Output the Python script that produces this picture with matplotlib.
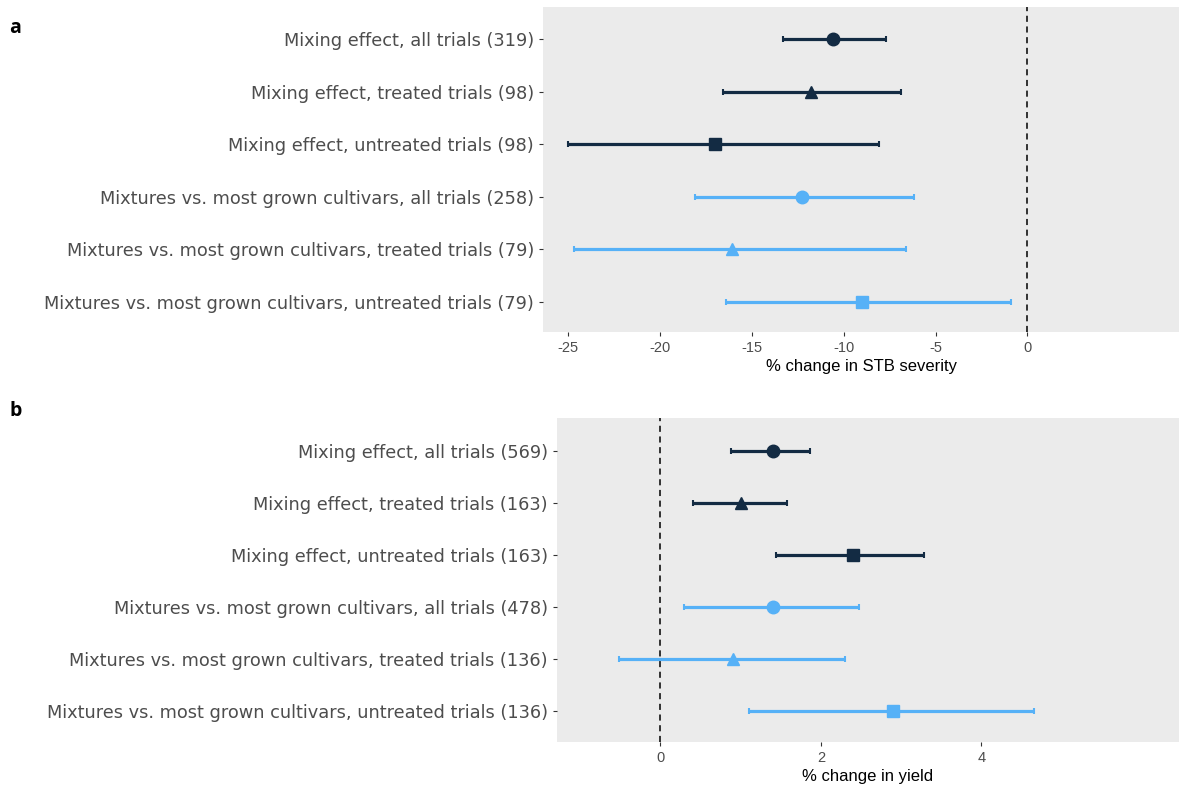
import matplotlib
matplotlib.use("Agg")
import matplotlib.pyplot as plt

# row labels, top to bottom
labels_a = ["Mixing effect, all trials (319)",
            "Mixing effect, treated trials (98)",
            "Mixing effect, untreated trials (98)",
            "Mixtures vs. most grown cultivars, all trials (258)",
            "Mixtures vs. most grown cultivars, treated trials (79)",
            "Mixtures vs. most grown cultivars, untreated trials (79)"]
labels_b = ["Mixing effect, all trials (569)",
            "Mixing effect, treated trials (163)",
            "Mixing effect, untreated trials (163)",
            "Mixtures vs. most grown cultivars, all trials (478)",
            "Mixtures vs. most grown cultivars, treated trials (136)",
            "Mixtures vs. most grown cultivars, untreated trials (136)"]

# panel a: STB severity
est_a = [-10.6, -11.8, -17.0, -12.3, -16.1, -9.0]
low_a = [-13.3, -16.6, -25.0, -18.1, -24.7, -16.4]
high_a = [-7.7, -6.9, -8.1, -6.2, -6.6, -0.9]

# panel b: yield
est_b = [1.40, 1.00, 2.40, 1.40, 0.90, 2.90]
low_b = [0.88, 0.41, 1.44, 0.30, -0.51, 1.11]
high_b = [1.86, 1.58, 3.28, 2.48, 2.30, 4.66]

dark = "#132B43"
light = "#56B1F7"
colors = [dark, dark, dark, light, light, light]
markers = ["o", "^", "s", "o", "^", "s"]

plt.rcParams['font.family'] = ['Liberation Sans', 'DejaVu Sans']


def draw(ax, labels, est, low, high, xlim, xticks, xlabel):
    ax.set_facecolor("#EBEBEB")
    ax.axvline(0, color="black", ls=(0, (4, 3)), lw=1.1, zorder=1)
    n = len(labels)
    for i in range(n):
        y = n - i
        ax.errorbar(est[i], y, xerr=[[est[i] - low[i]], [high[i] - est[i]]],
                    fmt="none", ecolor=colors[i], elinewidth=2.3,
                    capsize=2.5, capthick=1.5, zorder=2)
        ax.plot(est[i], y, marker=markers[i], color=colors[i],
                markersize=9 if markers[i] != "s" else 8.5, ls="none", zorder=3)
    ax.set_yticks(range(n, 0, -1))
    ax.set_yticklabels(labels, fontsize=12.8, color="#4D4D4D",
                       family="DejaVu Sans")
    ax.set_ylim(0.42, n + 0.62)
    ax.set_xlim(*xlim)
    ax.set_xticks(xticks)
    ax.set_xticklabels([str(t) for t in xticks], fontsize=10.5, color="#4D4D4D")
    ax.set_xlabel(xlabel, fontsize=12, color="black", labelpad=3)
    ax.tick_params(axis="both", length=3, color="#333333", width=0.8)
    for s in ax.spines.values():
        s.set_visible(False)


fig = plt.figure(figsize=(11.79, 7.91), dpi=100)
ax_a = fig.add_axes([0.4606, 0.5803, 0.5394, 0.4109])
ax_b = fig.add_axes([0.4722, 0.0623, 0.5278, 0.4089])

draw(ax_a, labels_a, est_a, low_a, high_a, (-26.38, 8.26),
     [-25, -20, -15, -10, -5, 0], "% change in STB severity")
draw(ax_b, labels_b, est_b, low_b, high_b, (-1.29, 6.46),
     [0, 2, 4], "% change in yield")

fig.text(0.008, 0.958, "a", fontsize=14, fontweight="bold", family="Open Sans")
fig.text(0.008, 0.474, "b", fontsize=14, fontweight="bold", family="Open Sans")

fig.savefig("out.png", dpi=100)
